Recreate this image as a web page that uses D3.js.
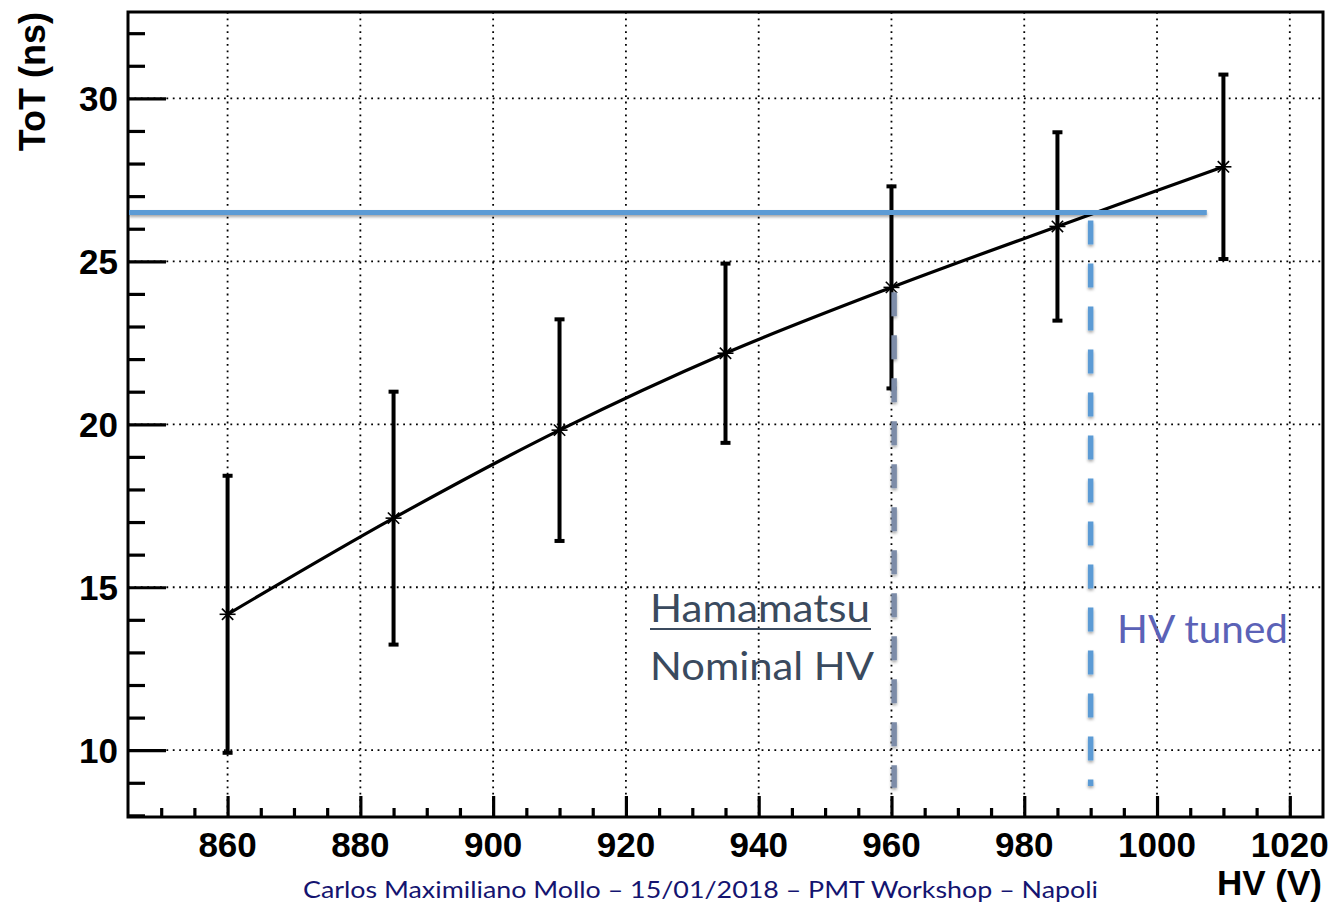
<!DOCTYPE html>
<html>
<head>
<meta charset="utf-8">
<script src="https://cdn.jsdelivr.net/npm/d3@7"></script>
<style>
  html, body { margin: 0; padding: 0; background: #ffffff; }
  svg { display: block; }
</style>
</head>
<body>
<svg id="chart" width="1334" height="904"></svg>
<script>
// ToT versus HV measurements
const hvValues = [860, 885, 910, 935, 960, 985, 1010];
const totValues = [14.17, 17.12, 19.82, 22.18, 24.2, 26.07, 27.9];
const totErrors = [4.25, 3.88, 3.4, 2.75, 3.1, 2.89, 2.83];

// Axis ticks
const xMajorTicks = [860, 880, 900, 920, 940, 960, 980, 1000, 1020];
const yMajorTicks = [10, 15, 20, 25, 30];

// Annotations
const tunedLevel = 26.5;       // ToT working point (ns)
const levelEndHV = 1007.5;     // where the working-point line stops
const nominalHV = 960.4;       // manufacturer nominal HV
const nominalSpan = [24.05, 8.85];
const tunedHV = 990;           // HV after tuning
const tunedSpan = [26.25, 8.9];

const svg = d3.select("#chart");
const W = 1334, H = 904;
const frame = { left: 128, right: 1323, top: 12, bottom: 817 };

const x = d3.scaleLinear().domain([845, 1025]).range([frame.left, frame.right]);
const y = d3.scaleLinear().domain([7.95, 32.65]).range([frame.bottom, frame.top]);

svg.append("rect").attr("width", W).attr("height", H).attr("fill", "#ffffff");

// Soft shadow for the annotation strokes (user-space region so thin lines still render)
const defs = svg.append("defs");
const shadow = defs.append("filter").attr("id", "soft-shadow")
  .attr("filterUnits", "userSpaceOnUse")
  .attr("x", 0).attr("y", 0).attr("width", W).attr("height", H);
shadow.append("feDropShadow")
  .attr("dx", 0).attr("dy", 2).attr("stdDeviation", 1.6)
  .attr("flood-color", "#000").attr("flood-opacity", 0.35);

// Dotted grid
const grid = svg.append("g").attr("stroke", "#000").attr("stroke-width", 1.8)
  .attr("stroke-dasharray", "1.8,4.6").attr("fill", "none");
xMajorTicks.forEach(v => {
  grid.append("line").attr("x1", x(v)).attr("x2", x(v))
    .attr("y1", frame.top).attr("y2", frame.bottom);
});
yMajorTicks.forEach(v => {
  grid.append("line").attr("x1", frame.left).attr("x2", frame.right)
    .attr("y1", y(v)).attr("y2", y(v));
});

// Frame
svg.append("rect")
  .attr("x", frame.left).attr("y", frame.top)
  .attr("width", frame.right - frame.left).attr("height", frame.bottom - frame.top)
  .attr("fill", "none").attr("stroke", "#000").attr("stroke-width", 3);

// Y axis (ticks pointing inward)
const yAxisMajor = d3.axisRight(y).tickValues(yMajorTicks).tickSize(38).tickFormat("");
const yAxisMinor = d3.axisRight(y).tickValues(d3.range(8, 33, 1).filter(v => v % 5 !== 0))
  .tickSize(17).tickFormat("");
[yAxisMajor, yAxisMinor].forEach(ax => {
  const g = svg.append("g").attr("transform", `translate(${frame.left},0)`).call(ax);
  g.select(".domain").remove();
  g.selectAll("line").attr("stroke", "#000").attr("stroke-width", 3.2);
});

// X axis (ticks pointing inward)
const xAxisMajor = d3.axisTop(x).tickValues(xMajorTicks).tickSize(21).tickFormat("");
const xAxisMinor = d3.axisTop(x).tickValues(d3.range(850, 1025, 5).filter(v => v % 20 !== 0))
  .tickSize(9).tickFormat("");
[xAxisMajor, xAxisMinor].forEach(ax => {
  const g = svg.append("g").attr("transform", `translate(0,${frame.bottom})`).call(ax);
  g.select(".domain").remove();
  g.selectAll("line").attr("stroke", "#000").attr("stroke-width", 3.2);
});

// Tick labels
const labelFont = "'Liberation Sans', Arial, Helvetica, sans-serif";
svg.append("g").selectAll("text").data(yMajorTicks).join("text")
  .attr("x", 118).attr("y", d => y(d)).attr("dy", "0.36em")
  .attr("text-anchor", "end").attr("font-family", labelFont)
  .attr("font-weight", "bold").attr("font-size", 35).attr("fill", "#000")
  .text(d => d);
svg.append("g").selectAll("text").data(xMajorTicks).join("text")
  .attr("x", d => x(d)).attr("y", 857)
  .attr("text-anchor", "middle").attr("font-family", labelFont)
  .attr("font-weight", "bold").attr("font-size", 35).attr("fill", "#000")
  .text(d => d);

// Axis titles
svg.append("text")
  .attr("transform", "translate(45,12) rotate(-90)")
  .attr("text-anchor", "end").attr("font-family", labelFont)
  .attr("font-weight", "bold").attr("font-size", 36).attr("fill", "#000")
  .text("ToT (ns)");
svg.append("text")
  .attr("x", 1322).attr("y", 895)
  .attr("text-anchor", "end").attr("font-family", labelFont)
  .attr("font-weight", "bold").attr("font-size", 35).attr("fill", "#000")
  .text("HV (V)");

// Measurements
const points = hvValues.map((v, i) => ({ hv: v, tot: totValues[i], err: totErrors[i] }));

const curve = d3.line().x(d => x(d.hv)).y(d => y(d.tot)).curve(d3.curveCatmullRom.alpha(0.5));
svg.append("path").datum(points)
  .attr("d", curve).attr("fill", "none")
  .attr("stroke", "#000").attr("stroke-width", 3.2);

const bars = svg.append("g");
bars.selectAll("line.err").data(points).join("line").attr("class", "err")
  .attr("x1", d => x(d.hv)).attr("x2", d => x(d.hv))
  .attr("y1", d => y(d.tot + d.err)).attr("y2", d => y(d.tot - d.err))
  .attr("stroke", "#000").attr("stroke-width", 4);
bars.selectAll("rect.capTop").data(points).join("rect").attr("class", "capTop")
  .attr("x", d => x(d.hv) - 5).attr("y", d => y(d.tot + d.err) - 2)
  .attr("width", 10).attr("height", 4).attr("fill", "#000");
bars.selectAll("rect.capBottom").data(points).join("rect").attr("class", "capBottom")
  .attr("x", d => x(d.hv) - 5).attr("y", d => y(d.tot - d.err) - 2)
  .attr("width", 10).attr("height", 4).attr("fill", "#000");

// Asterisk markers
const star = svg.append("g").attr("stroke", "#000").attr("stroke-width", 1.6);
points.forEach(d => {
  const cx = x(d.hv), cy = y(d.tot), r = 8;
  [[r, 0], [0, r], [r * 0.707, r * 0.707], [r * 0.707, -r * 0.707]].forEach(([dx, dy]) => {
    star.append("line").attr("x1", cx - dx).attr("y1", cy - dy)
      .attr("x2", cx + dx).attr("y2", cy + dy);
  });
});

// Working-point line and HV markers
svg.append("line")
  .attr("x1", x(845) + 1).attr("x2", x(levelEndHV))
  .attr("y1", y(tunedLevel)).attr("y2", y(tunedLevel))
  .attr("stroke", "#5B9BD5").attr("stroke-width", 5)
  .attr("filter", "url(#soft-shadow)");

svg.append("line")
  .attr("x1", x(nominalHV)).attr("x2", x(nominalHV))
  .attr("y1", y(nominalSpan[0])).attr("y2", y(nominalSpan[1]))
  .attr("stroke", "#7D8CA8").attr("stroke-width", 5.5)
  .attr("stroke-dasharray", "24,19")
  .attr("filter", "url(#soft-shadow)");

svg.append("line")
  .attr("x1", x(tunedHV)).attr("x2", x(tunedHV))
  .attr("y1", y(tunedSpan[0])).attr("y2", y(tunedSpan[1]))
  .attr("stroke", "#5B9BD5").attr("stroke-width", 5.5)
  .attr("stroke-dasharray", "24,19")
  .attr("filter", "url(#soft-shadow)");

// Annotation text
const noteFont = "Lato, 'Open Sans', sans-serif";
svg.append("text")
  .attr("x", 650).attr("y", 622)
  .attr("font-family", noteFont).attr("font-size", 39).attr("fill", "#3A4A5E")
  .attr("textLength", 220).attr("lengthAdjust", "spacingAndGlyphs")
  .text("Hamamatsu");
svg.append("line")
  .attr("x1", 650).attr("x2", 871).attr("y1", 629).attr("y2", 629)
  .attr("stroke", "#3A4A5E").attr("stroke-width", 2.2);
svg.append("text")
  .attr("x", 650).attr("y", 680)
  .attr("font-family", noteFont).attr("font-size", 39).attr("fill", "#3A4A5E")
  .attr("textLength", 224).attr("lengthAdjust", "spacingAndGlyphs")
  .text("Nominal HV");
svg.append("text")
  .attr("x", 1117).attr("y", 643)
  .attr("font-family", noteFont).attr("font-size", 39).attr("fill", "#5B62B7")
  .attr("textLength", 171).attr("lengthAdjust", "spacingAndGlyphs")
  .text("HV tuned");

// Footer
svg.append("text")
  .attr("x", 303).attr("y", 898)
  .attr("font-family", noteFont).attr("font-size", 23).attr("fill", "#141470")
  .attr("textLength", 795).attr("lengthAdjust", "spacingAndGlyphs")
  .text("Carlos Maximiliano Mollo – 15/01/2018 – PMT Workshop – Napoli");
</script>
</body>
</html>
